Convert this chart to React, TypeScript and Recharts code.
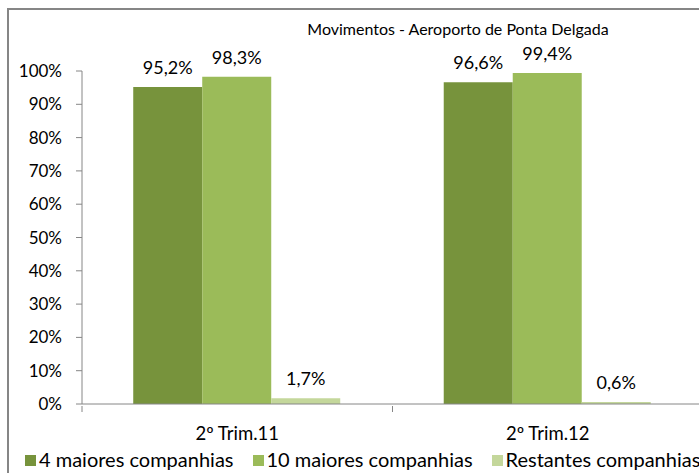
import React from 'react';
import { BarChart, Bar, XAxis, YAxis, Legend, LabelList } from 'recharts';

const categories = ['2º Trim.11', '2º Trim.12'];
const top4 = [0.952, 0.966];
const top10 = [0.983, 0.994];
const others = [0.017, 0.006];
const seriesNames = ['4 maiores companhias', '10 maiores companhias', 'Restantes companhias'];
const yTicks = [0, 0.1, 0.2, 0.3, 0.4, 0.5, 0.6, 0.7, 0.8, 0.9, 1];
const title = 'Movimentos - Aeroporto de Ponta Delgada';

const colors = ['#77933C', '#9BBB59', '#C4D79B'];
const axisColor = '#868686';
const FONT = 'Lato, Carlito, Calibri, sans-serif';

const data = categories.map((c, i) => ({
  name: c,
  a: top4[i],
  b: top10[i],
  c: others[i],
}));

const pct = (v: any) => `${(Number(v) * 100).toFixed(1).replace('.', ',')}%`;

const XTick = (props: any) => {
  const { x, y, payload, width, visibleTicksCount } = props;
  const half = width / visibleTicksCount / 2;
  return (
    <g>
      <line x1={x + half} x2={x + half} y1={y} y2={y + 6} stroke={axisColor} strokeWidth={1} />
      {payload.index === 0 && (
        <line x1={x - half} x2={x - half} y1={y} y2={y + 6} stroke={axisColor} strokeWidth={1} />
      )}
      <text x={x} y={y + 21} dy="0.71em" textAnchor="middle" fill="#000" fontSize={18.5} fontFamily={FONT}>
        {payload.value}
      </text>
    </g>
  );
};

const LegendContent = (props: any) => {
  const payload = [...(props.payload || [])].sort(
    (p: any, q: any) => seriesNames.indexOf(p.value) - seriesNames.indexOf(q.value)
  );
  return (
    <div
      style={{
        display: 'flex',
        alignItems: 'center',
        height: 20,
        fontFamily: FONT,
        fontSize: 20,
        lineHeight: '20px',
        color: '#000',
        whiteSpace: 'nowrap',
      }}
    >
      {payload.map((p: any, i: number) => (
        <div key={i} style={{ display: 'flex', alignItems: 'center', marginRight: 19 }}>
          <span style={{ display: 'inline-block', width: 11, height: 11, background: p.color, marginRight: 3, marginTop: 2 }} />
          <span>{p.value}</span>
        </div>
      ))}
    </div>
  );
};

export default function App() {
  return (
    <div style={{ position: 'absolute', left: 0, top: 0, width: 699, height: 473, overflow: 'hidden', background: '#fff' }}>
      <div
        style={{
          position: 'absolute',
          left: 7,
          top: 8,
          width: 760,
          height: 520,
          border: `2px solid ${axisColor}`,
          boxSizing: 'border-box',
        }}
      />
      <div
        style={{
          position: 'absolute',
          left: 458,
          top: 19,
          transform: 'translateX(-50%)',
          fontFamily: FONT,
          fontSize: 16,
          lineHeight: '20px',
          color: '#000',
          whiteSpace: 'nowrap',
        }}
      >
        {title}
      </div>
      <div style={{ position: 'absolute', left: 0, top: 0 }}>
        <BarChart
          width={720}
          height={473}
          data={data}
          margin={{ top: 71, right: 17, left: 32, bottom: 0 }}
          barCategoryGap="16.5%"
          barGap={0}
        >
          <XAxis
            dataKey="name"
            stroke={axisColor}
            tickLine={false}
            tickSize={0}
            height={49}
            interval={0}
            tick={<XTick />}
          />
          <YAxis
            domain={[0, 1]}
            ticks={yTicks}
            tickFormatter={(v: number) => `${Math.round(v * 100)}%`}
            stroke={axisColor}
            tickSize={6}
            tickMargin={14}
            width={50}
            tick={{ fill: '#000', fontSize: 17, fontFamily: FONT }}
            interval={0}
          />
          <Legend
            verticalAlign="bottom"
            align="left"
            height={20}
            content={<LegendContent />}
            wrapperStyle={{ left: 25, bottom: 4, width: 'auto' }}
          />
          <Bar dataKey="a" name={seriesNames[0]} fill={colors[0]} isAnimationActive={false}>
            <LabelList dataKey="a" position="top" offset={13} formatter={pct} fill="#000" fontSize={18} fontFamily={FONT} />
          </Bar>
          <Bar dataKey="b" name={seriesNames[1]} fill={colors[1]} isAnimationActive={false}>
            <LabelList dataKey="b" position="top" offset={13} formatter={pct} fill="#000" fontSize={18} fontFamily={FONT} />
          </Bar>
          <Bar dataKey="c" name={seriesNames[2]} fill={colors[2]} isAnimationActive={false}>
            <LabelList dataKey="c" position="top" offset={13} formatter={pct} fill="#000" fontSize={18} fontFamily={FONT} />
          </Bar>
        </BarChart>
      </div>
    </div>
  );
}
